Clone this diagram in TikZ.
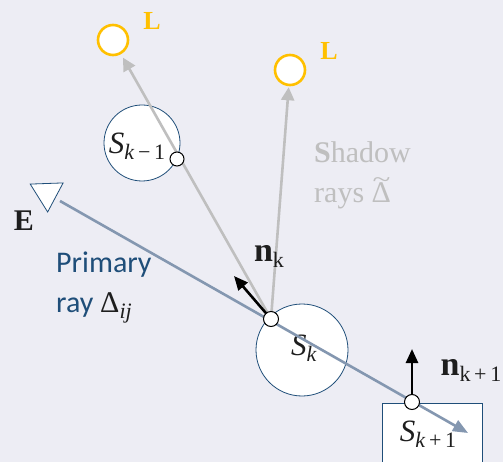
\RequirePackage{fix-cm}
\documentclass[tikz,border=0pt]{standalone}
\usepackage{graphicx}
\usepackage{fontspec}
\setmainfont{Liberation Serif}
\newfontfamily\carlito{Carlito}
\usetikzlibrary{arrows.meta,shapes.geometric}
\definecolor{bg}{RGB}{237,237,244}
\definecolor{lightc}{RGB}{255,192,0}
\definecolor{objc}{RGB}{31,78,121}
\definecolor{primc}{RGB}{132,151,176}
\definecolor{shadc}{RGB}{191,191,191}
\definecolor{textc}{RGB}{31,78,121}
\definecolor{inkc}{RGB}{30,30,30}
\newcommand{\lowsub}[1]{\raisebox{-6pt}{\fontsize{22}{23}\selectfont #1}}
\tikzset{
  lightsrc/.style={circle, draw=lightc, line width=2.6pt, fill=white, minimum size=30pt, inner sep=0pt},
  lightlbl/.style={text=lightc, font=\fontsize{26}{28}\selectfont\bfseries},
  obj/.style={draw=objc, line width=0.8pt, fill=white, inner sep=0pt},
  hit/.style={circle, draw=black, line width=1pt, fill=white, minimum size=15pt, inner sep=0pt},
  mathlbl/.style={font=\fontsize{31}{33}\selectfont, text=inkc, inner sep=0pt},
  boldlbl/.style={font=\fontsize{34}{36}\selectfont\bfseries, text=inkc, inner sep=0pt},
  shadowray/.style={draw=shadc, line width=2.6pt, -{Triangle[length=13pt,width=13pt]}},
  primray/.style={draw=primc, line width=2.6pt, -{Triangle[length=15pt,width=12pt]}},
  normal/.style={draw=black, line width=2.6pt, -{Triangle[length=14pt,width=12pt]}},
}
\begin{document}
\begin{tikzpicture}[x=1pt,y=-1pt]
\fill[bg] (0,0) rectangle (503,462);
\useasboundingbox (0,0) rectangle (503,462);
% objects
\node[obj, circle, minimum size=76pt] (skm1) at (142,143) {};
\node[obj, circle, minimum size=92pt] (sk) at (302,350) {};
\node[obj, rectangle, minimum width=100pt, minimum height=70pt, anchor=north west] (skp1) at (382,403) {};
\node[mathlbl] at (137,146) {\textit{S}\lowsub{\textit{k}\,−\,1}};
\node[mathlbl] at (304,348) {\textit{S}\lowsub{\textit{k}}};
\node[mathlbl] at (428,434) {\textit{S}\lowsub{\textit{k}\,+\,1}};
% lights
\node[lightsrc] (l1) at (113,40) {};
\node[lightsrc] (l2) at (290,70) {};
\node[lightlbl] at (152,21) {L};
\node[lightlbl] at (329,51) {L};
% eye
\node[regular polygon, regular polygon sides=3, rotate=182, draw=objc, line width=0.8pt, fill=white, minimum size=38pt, inner sep=0pt] (eye) at (47,193) {};
\node[font=\fontsize{30}{32}\selectfont\bfseries, text=inkc] (elbl) at (24,221) {E};
% hit points
\coordinate (start) at (60,201);
\coordinate (pk) at (271,319);
\coordinate (pk1) at (412,402);
\coordinate (pend) at (468,433);
\coordinate (nktip) at (234,276);
\coordinate (nk1tip) at (412,349);
% rays
\draw[shadowray, shorten >=4pt] (pk) -- (l1);
\draw[shadowray, shorten >=1pt] (pk) -- (l2);
\draw[primray] (start) -- (pend);
\draw[normal] (pk) -- (nktip);
\draw[normal] (pk1) -- (nk1tip);
\node[hit, minimum size=14pt] (hm1) at (177,159) {};
\node[hit] (hk) at (pk) {};
\node[hit] (hk1) at (pk1) {};
% labels
\node[boldlbl] at (269,256) {n\lowsub{\mdseries k}};
\node[boldlbl] at (471,370) {n\lowsub{\mdseries k\,+\,1}};
\node[anchor=west, align=left, text=textc, font=\carlito\fontsize{30}{40}\selectfont, inner sep=0pt] at (56,288) {Primary\\ray {\rmfamily\color{inkc}Δ\lowsub{\textit{ij}}}};
\node[anchor=west, align=left, text=shadc, font=\fontsize{30}{40}\selectfont, inner sep=0pt] at (314,175) {\textbf{S}hadow\\rays \makebox[0pt][l]{\hspace{1pt}\raisebox{15pt}{\scalebox{1.1}[0.8]{\textasciitilde}}}Δ};
\end{tikzpicture}
\end{document}
